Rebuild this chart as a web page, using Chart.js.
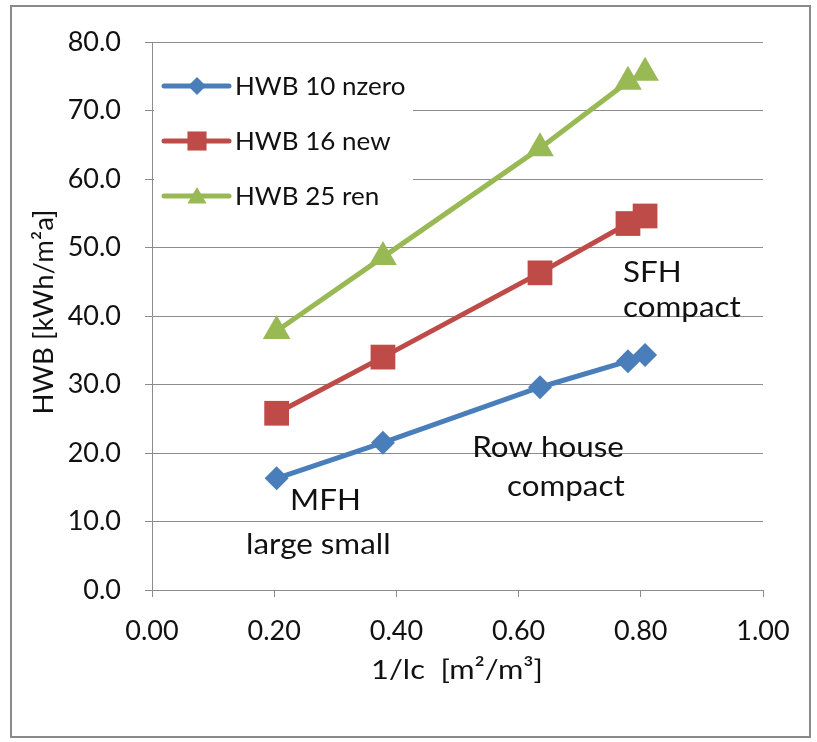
<!DOCTYPE html>
<html>
<head>
<meta charset="utf-8">
<script src="https://cdn.jsdelivr.net/npm/chart.js@4"></script>
<style>
  html, body { margin: 0; padding: 0; background: #fff; }
  #wrap { width: 817px; height: 742px; position: relative; }
</style>
</head>
<body>
<div id="wrap"><canvas id="c" width="817" height="742"></canvas></div>
<script>
// Inverse characteristic length (1/lc) of the building types
const compactness = [0.204, 0.378, 0.635, 0.779, 0.807];
// Heating demand HWB per standard
const hwbNzero = [16.3, 21.5, 29.6, 33.4, 34.3];
const hwbNew   = [25.8, 34.0, 46.3, 53.5, 54.6];
const hwbRen   = [37.8, 48.6, 64.5, 74.2, 75.5];
const seriesNames = ['HWB 10 nzero', 'HWB 16 new', 'HWB 25 ren'];
const yTickValues = [0, 10, 20, 30, 40, 50, 60, 70, 80];
const xTickValues = [0, 0.2, 0.4, 0.6, 0.8, 1.0];
// Building-type notes: text, left x and baseline y (data units)
const notes = [
  { text: 'MFH',         x: 0.226, y: 11.7 },
  { text: 'large small', x: 0.154, y: 5.3 },
  { text: 'Row house',   x: 0.524, y: 19.4 },
  { text: 'compact',     x: 0.581, y: 13.7 },
  { text: 'SFH',         x: 0.771, y: 45.0 },
  { text: 'compact',     x: 0.771, y: 39.85 }
];

const FONT = 'Lato, "Liberation Sans", sans-serif';
const GRID = '#8c8c8c';
const TEXT = '#111111';
const colors = ['#4A7EBB', '#BE4B48', '#98B954'];
const styles = ['rectRot', 'rect', 'triangle'];
const radii = [12, 17.5, 16];
const legendRadii = [9, 13.5, 11];

function pts(ys) { return compactness.map((x, i) => ({ x: x, y: ys[i] })); }

const seriesValues = [hwbNzero, hwbNew, hwbRen];
const datasets = seriesValues.map((ys, i) => ({
  label: seriesNames[i],
  data: pts(ys),
  showLine: true,
  borderColor: colors[i],
  backgroundColor: colors[i],
  borderWidth: 5,
  pointStyle: styles[i],
  pointRadius: radii[i],
  pointHoverRadius: radii[i],
  pointBorderWidth: 0,
  pointBackgroundColor: colors[i],
  pointBorderColor: colors[i],
  tension: 0
}));

function drawMarker(ctx, style, x, y, r, color) {
  ctx.save();
  ctx.fillStyle = color;
  ctx.beginPath();
  if (style === 'rect') {
    const s = Math.SQRT1_2 * r;
    ctx.rect(x - s, y - s, 2 * s, 2 * s);
  } else if (style === 'rectRot') {
    ctx.moveTo(x, y - r); ctx.lineTo(x + r, y); ctx.lineTo(x, y + r); ctx.lineTo(x - r, y);
    ctx.closePath();
  } else {
    const a = 2 * Math.PI / 3;
    ctx.moveTo(x, y - r);
    ctx.lineTo(x + Math.sin(a) * r, y - Math.cos(a) * r);
    ctx.lineTo(x + Math.sin(2 * a) * r, y - Math.cos(2 * a) * r);
    ctx.closePath();
  }
  ctx.fill();
  ctx.restore();
}

// text with a slight horizontal widening, alphabetic baseline
function wideText(ctx, txt, x, y, size, sx, align) {
  ctx.save();
  ctx.font = size + 'px ' + FONT;
  ctx.fillStyle = TEXT;
  ctx.textAlign = align;
  ctx.textBaseline = 'alphabetic';
  ctx.translate(x, y);
  ctx.scale(sx, 1);
  ctx.fillText(txt, 0, 0);
  ctx.restore();
}

const decorations = {
  id: 'decorations',
  afterDatasetsDraw(chart) {
    const ctx = chart.ctx;
    const xs = chart.scales.x, ys = chart.scales.y;

    // legend box inside the plot area
    ctx.save();
    ctx.fillStyle = '#ffffff';
    ctx.fillRect(154, 56, 259, 168);
    const rows = [86, 141, 196];
    chart.data.datasets.forEach((ds, i) => {
      const y = rows[i];
      ctx.strokeStyle = colors[i];
      ctx.lineWidth = 5;
      ctx.lineCap = 'round';
      ctx.beginPath();
      ctx.moveTo(164, y); ctx.lineTo(229, y);
      ctx.stroke();
      drawMarker(ctx, styles[i], 197, y + (styles[i] === 'triangle' ? 2 : 0), legendRadii[i], colors[i]);
      wideText(ctx, ds.label, 235, y + 9, 25.5, 1.02, 'left');
    });
    ctx.restore();

    // building-type notes
    notes.forEach(n => {
      wideText(ctx, n.text, xs.getPixelForValue(n.x), ys.getPixelForValue(n.y), 28, 1.12, 'left');
    });
  },
  afterDraw(chart) {
    const ctx = chart.ctx;
    // axis titles
    wideText(ctx, '1/lc  [m²/m³]', 457, 679, 27.5, 1.12, 'center');
    ctx.save();
    ctx.translate(53, 312);
    ctx.rotate(-Math.PI / 2);
    wideText(ctx, 'HWB [kWh/m²a]', 0, 0, 26, 1.06, 'center');
    ctx.restore();
    // outer frame
    ctx.save();
    ctx.strokeStyle = '#8a8a8a';
    ctx.lineWidth = 2;
    ctx.strokeRect(11, 6, 799, 731);
    ctx.restore();
  }
};

new Chart(document.getElementById('c'), {
  type: 'scatter',
  data: { datasets: datasets },
  options: {
    responsive: false,
    animation: false,
    events: [],
    layout: { padding: { left: 0, top: 42, right: 54, bottom: 0 } },
    plugins: { legend: { display: false }, tooltip: { enabled: false } },
    scales: {
      x: {
        type: 'linear', min: 0, max: 1,
        afterFit(s) { s.height = 152; },
        afterBuildTicks(s) { s.ticks = xTickValues.map(v => ({ value: v })); },
        ticks: {
          color: TEXT, padding: 18,
          font: { family: FONT, size: 27 },
          callback: v => Number(v).toFixed(2)
        },
        grid: { drawOnChartArea: false, drawTicks: true, tickLength: 7, color: GRID, tickColor: GRID },
        border: { display: true, color: GRID, width: 1 }
      },
      y: {
        type: 'linear', min: 0, max: 80,
        afterFit(s) { s.width = 152; },
        afterBuildTicks(s) { s.ticks = yTickValues.map(v => ({ value: v })); },
        ticks: {
          color: TEXT, padding: 24,
          font: { family: FONT, size: 27 },
          callback: v => Number(v).toFixed(1)
        },
        grid: { drawOnChartArea: true, drawTicks: true, tickLength: 7, color: GRID, tickColor: GRID },
        border: { display: true, color: GRID, width: 1 }
      }
    }
  },
  plugins: [decorations]
});
</script>
</body>
</html>
